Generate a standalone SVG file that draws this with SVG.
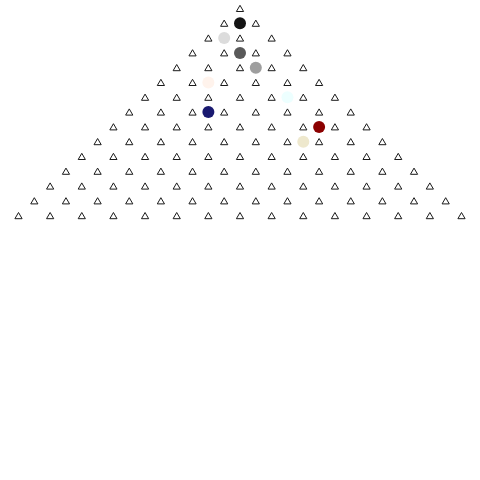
<svg xmlns="http://www.w3.org/2000/svg" xmlns:xlink="http://www.w3.org/1999/xlink" width="480" height="480" viewBox="0 0 480 480">
<style>
.peg{fill:#fff;stroke:#1a1a1a;stroke-width:1;stroke-linejoin:miter}
.ball{stroke:none}
</style>
<defs>
<path id="tri" class="peg" d="M0,-3.2 L3.6,3 L-3.6,3 Z"/>
</defs>
<rect width="480" height="480" fill="#fff"/>
<g id="pegs">
<g id="row0" transform="translate(240,8.5)"><use href="#tri" x="0"/></g>
<g id="row1" transform="translate(224.18,23.3)"><use href="#tri" x="0"/><use href="#tri" x="31.64"/></g>
<g id="row2" transform="translate(208.36,38.1)"><use href="#tri" x="0"/><use href="#tri" x="31.64"/><use href="#tri" x="63.29"/></g>
<g id="row3" transform="translate(192.54,52.9)"><use href="#tri" x="0"/><use href="#tri" x="31.64"/><use href="#tri" x="63.29"/><use href="#tri" x="94.93"/></g>
<g id="row4" transform="translate(176.71,67.7)"><use href="#tri" x="0"/><use href="#tri" x="31.64"/><use href="#tri" x="63.29"/><use href="#tri" x="94.93"/><use href="#tri" x="126.57"/></g>
<g id="row5" transform="translate(160.89,82.5)"><use href="#tri" x="0"/><use href="#tri" x="31.64"/><use href="#tri" x="63.29"/><use href="#tri" x="94.93"/><use href="#tri" x="126.57"/><use href="#tri" x="158.21"/></g>
<g id="row6" transform="translate(145.07,97.3)"><use href="#tri" x="0"/><use href="#tri" x="31.64"/><use href="#tri" x="63.29"/><use href="#tri" x="94.93"/><use href="#tri" x="126.57"/><use href="#tri" x="158.21"/><use href="#tri" x="189.86"/></g>
<g id="row7" transform="translate(129.25,112.1)"><use href="#tri" x="0"/><use href="#tri" x="31.64"/><use href="#tri" x="63.29"/><use href="#tri" x="94.93"/><use href="#tri" x="126.57"/><use href="#tri" x="158.21"/><use href="#tri" x="189.86"/><use href="#tri" x="221.5"/></g>
<g id="row8" transform="translate(113.43,126.9)"><use href="#tri" x="0"/><use href="#tri" x="31.64"/><use href="#tri" x="63.29"/><use href="#tri" x="94.93"/><use href="#tri" x="126.57"/><use href="#tri" x="158.21"/><use href="#tri" x="189.86"/><use href="#tri" x="221.5"/><use href="#tri" x="253.14"/></g>
<g id="row9" transform="translate(97.61,141.7)"><use href="#tri" x="0"/><use href="#tri" x="31.64"/><use href="#tri" x="63.29"/><use href="#tri" x="94.93"/><use href="#tri" x="126.57"/><use href="#tri" x="158.21"/><use href="#tri" x="189.86"/><use href="#tri" x="221.5"/><use href="#tri" x="253.14"/><use href="#tri" x="284.79"/></g>
<g id="row10" transform="translate(81.79,156.5)"><use href="#tri" x="0"/><use href="#tri" x="31.64"/><use href="#tri" x="63.29"/><use href="#tri" x="94.93"/><use href="#tri" x="126.57"/><use href="#tri" x="158.21"/><use href="#tri" x="189.86"/><use href="#tri" x="221.5"/><use href="#tri" x="253.14"/><use href="#tri" x="284.79"/><use href="#tri" x="316.43"/></g>
<g id="row11" transform="translate(65.96,171.3)"><use href="#tri" x="0"/><use href="#tri" x="31.64"/><use href="#tri" x="63.29"/><use href="#tri" x="94.93"/><use href="#tri" x="126.57"/><use href="#tri" x="158.21"/><use href="#tri" x="189.86"/><use href="#tri" x="221.5"/><use href="#tri" x="253.14"/><use href="#tri" x="284.79"/><use href="#tri" x="316.43"/><use href="#tri" x="348.07"/></g>
<g id="row12" transform="translate(50.14,186.1)"><use href="#tri" x="0"/><use href="#tri" x="31.64"/><use href="#tri" x="63.29"/><use href="#tri" x="94.93"/><use href="#tri" x="126.57"/><use href="#tri" x="158.21"/><use href="#tri" x="189.86"/><use href="#tri" x="221.5"/><use href="#tri" x="253.14"/><use href="#tri" x="284.79"/><use href="#tri" x="316.43"/><use href="#tri" x="348.07"/><use href="#tri" x="379.71"/></g>
<g id="row13" transform="translate(34.32,200.9)"><use href="#tri" x="0"/><use href="#tri" x="31.64"/><use href="#tri" x="63.29"/><use href="#tri" x="94.93"/><use href="#tri" x="126.57"/><use href="#tri" x="158.21"/><use href="#tri" x="189.86"/><use href="#tri" x="221.5"/><use href="#tri" x="253.14"/><use href="#tri" x="284.79"/><use href="#tri" x="316.43"/><use href="#tri" x="348.07"/><use href="#tri" x="379.71"/><use href="#tri" x="411.36"/></g>
<g id="row14" transform="translate(18.5,215.7)"><use href="#tri" x="0"/><use href="#tri" x="31.64"/><use href="#tri" x="63.29"/><use href="#tri" x="94.93"/><use href="#tri" x="126.57"/><use href="#tri" x="158.21"/><use href="#tri" x="189.86"/><use href="#tri" x="221.5"/><use href="#tri" x="253.14"/><use href="#tri" x="284.79"/><use href="#tri" x="316.43"/><use href="#tri" x="348.07"/><use href="#tri" x="379.71"/><use href="#tri" x="411.36"/><use href="#tri" x="443"/></g>
</g>
<g id="balls">
<circle id="ball1" class="ball" cx="240" cy="23.3" r="6" fill="#141414"/>
<circle id="ball2" class="ball" cx="224.18" cy="38.1" r="6" fill="#dcdcdc"/>
<circle id="ball3" class="ball" cx="240" cy="52.9" r="6" fill="#595959"/>
<circle id="ball4" class="ball" cx="255.82" cy="67.7" r="6" fill="#9e9e9e"/>
<circle id="ball5" class="ball" cx="208.36" cy="82.5" r="6" fill="#fff3ec"/>
<circle id="ball6" class="ball" cx="287.46" cy="97.3" r="6" fill="#edffff"/>
<circle id="ball7" class="ball" cx="208.36" cy="112.1" r="6" fill="#191970"/>
<circle id="ball8" class="ball" cx="319.11" cy="126.9" r="6" fill="#8b0000"/>
<circle id="ball9" class="ball" cx="303.29" cy="141.7" r="6" fill="#eee8cd"/>
</g>
</svg>
